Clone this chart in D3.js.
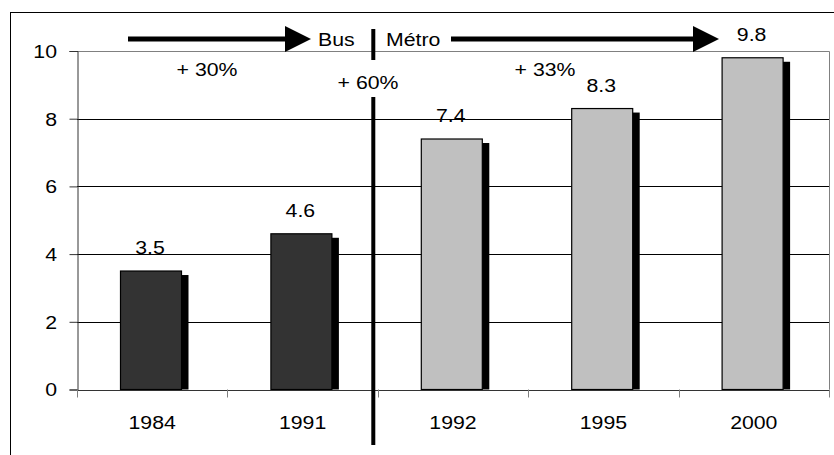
<!DOCTYPE html>
<html>
<head>
<meta charset="utf-8">
<script src="https://cdn.jsdelivr.net/npm/d3@7"></script>
<style>
  body { margin: 0; background: #fff; }
  text { font-family: "Liberation Sans", Arial, sans-serif; }
</style>
</head>
<body>
<svg width="834" height="455"></svg>
<script>
var years = ['1984', '1991', '1992', '1995', '2000'],
    values = [3.5, 4.6, 7.4, 8.3, 9.8],
    modes = ['bus', 'bus', 'metro', 'metro', 'metro'],
    yTicks = [0, 2, 4, 6, 8, 10];

var colors = { bus: '#333333', metro: '#c0c0c0' };

var svg = d3.select('svg');

// text in the source is a little wider than it is tall
var fs = 19, sx = 1.12;
function label(sel, xf, yf) {
    return sel.attr('font-size', fs)
        .attr('transform', (d, i) => 'translate(' + xf(d, i) + ',' + yf(d, i) + ') scale(' + sx + ',1)');
}

// outer frame (cut off on the right and bottom)
svg.append('rect')
    .attr('x', 10.5).attr('y', 12.5)
    .attr('width', 900).attr('height', 500)
    .attr('fill', 'none').attr('stroke', '#000');

var x = d3.scaleBand()
    .domain(years)
    .range([77, 829]);

var y = d3.scaleLinear()
    .domain([0, 10])
    .range([389.5, 51]);

// gridlines
svg.append('g').selectAll('line')
    .data(yTicks.filter(d => d > 0 && d < 10))
    .enter().append('line')
    .attr('x1', 77).attr('x2', 829)
    .attr('y1', d => Math.round(y(d)) + 0.5)
    .attr('y2', d => Math.round(y(d)) + 0.5)
    .attr('stroke', '#000');

// plot border top / right
svg.append('path')
    .attr('d', 'M77,' + (Math.round(y(10)) + 0.5) + 'H829.5V' + y(0))
    .attr('fill', 'none').attr('stroke', '#808080');

// y axis
var yAxis = d3.axisLeft(y).tickValues(yTicks).tickSize(8).tickFormat('');
svg.append('g')
    .attr('transform', 'translate(77.5,0)')
    .call(yAxis)
    .call(g => g.select('.domain').attr('stroke', '#333'))
    .call(g => g.selectAll('.tick line').attr('stroke', '#333'));

label(svg.append('g').selectAll('text')
    .data(yTicks)
    .enter().append('text')
    .attr('text-anchor', 'end')
    .attr('dy', '0.36em')
    .text(d => d), d => 57, d => y(d));

var bw = 61, off = 43.5;

// shadows
svg.append('g').selectAll('rect')
    .data(values)
    .enter().append('rect')
    .attr('x', (d, i) => x(years[i]) + off + 7)
    .attr('y', d => y(d) + 4)
    .attr('width', bw)
    .attr('height', d => y(0) - y(d) - 4)
    .attr('fill', '#000');

// bars
svg.append('g').selectAll('rect')
    .data(values)
    .enter().append('rect')
    .attr('x', (d, i) => x(years[i]) + off)
    .attr('y', d => y(d))
    .attr('width', bw)
    .attr('height', d => y(0) - y(d))
    .attr('fill', (d, i) => colors[modes[i]])
    .attr('stroke', '#000')
    .attr('stroke-width', 1.2);

// x axis
svg.append('line')
    .attr('x1', 77).attr('x2', 829.5)
    .attr('y1', Math.round(y(0)) + 0.5).attr('y2', Math.round(y(0)) + 0.5)
    .attr('stroke', '#333');

var bounds = years.map(d => x(d)).concat([x.range()[1]]);
svg.append('g').selectAll('line')
    .data(bounds)
    .enter().append('line')
    .attr('x1', d => Math.round(d) + 0.5).attr('x2', d => Math.round(d) + 0.5)
    .attr('y1', y(0)).attr('y2', y(0) + 8)
    .attr('stroke', '#808080');

label(svg.append('g').selectAll('text')
    .data(years)
    .enter().append('text')
    .attr('text-anchor', 'middle')
    .text(d => d), d => x(d) + x.bandwidth() / 2, d => 429);

// value labels
label(svg.append('g').selectAll('text')
    .data(values)
    .enter().append('text')
    .attr('text-anchor', 'middle')
    .text(d => d.toFixed(1)), (d, i) => x(years[i]) + off + bw / 2 - 1, d => y(d) - 17);

// divider between bus and metro
var divX = x('1992') - 4.5;
svg.append('line')
    .attr('x1', divX).attr('x2', divX)
    .attr('y1', 29).attr('y2', 60)
    .attr('stroke', '#000').attr('stroke-width', 4);
svg.append('line')
    .attr('x1', divX).attr('x2', divX)
    .attr('y1', 97).attr('y2', 445)
    .attr('stroke', '#000').attr('stroke-width', 4);

// arrows
function arrow(x0, x1, yc) {
    svg.append('line')
        .attr('x1', x0).attr('x2', x1 - 20)
        .attr('y1', yc).attr('y2', yc)
        .attr('stroke', '#000').attr('stroke-width', 5);
    svg.append('path')
        .attr('d', 'M' + (x1 - 26) + ',' + (yc - 13) + 'L' + x1 + ',' + yc + 'L' + (x1 - 26) + ',' + (yc + 13) + 'Z')
        .attr('fill', '#000');
}
arrow(128, 311, 39);
arrow(451, 719, 39);

var heads = [
    { label: 'Bus', x: 318, y: 46 },
    { label: 'Métro', x: 386, y: 46 }
];
label(svg.append('g').selectAll('text')
    .data(heads)
    .enter().append('text')
    .text(d => d.label), d => d.x, d => d.y);

// growth labels
var growth = [
    { label: '+ 30%', x: 207, y: 76 },
    { label: '+ 60%', x: 368, y: 89 },
    { label: '+ 33%', x: 545, y: 76 }
];
label(svg.append('g').selectAll('text')
    .data(growth)
    .enter().append('text')
    .attr('text-anchor', 'middle')
    .text(d => d.label), d => d.x, d => d.y);
</script>
</body>
</html>
